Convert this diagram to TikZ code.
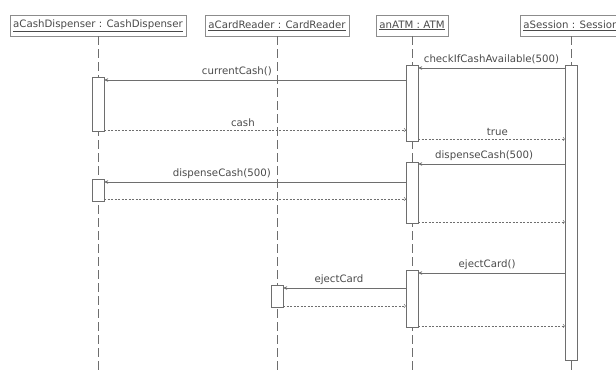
\documentclass[tikz,border=0pt]{standalone}
\usepackage{fontspec}
\setmainfont{DejaVu Sans}
\usetikzlibrary{arrows.meta, positioning}
\definecolor{linegray}{HTML}{6E6E6E}
\definecolor{textgray}{HTML}{4A4A4A}
\definecolor{boxgray}{HTML}{8C8C8C}
\tikzset{
  obj/.style={draw=boxgray, fill=white, text=textgray, minimum height=21pt, inner xsep=3.5pt, inner ysep=0pt},
  life/.style={draw=linegray, dash pattern=on 9pt off 4pt},
  act/.style={draw=linegray, fill=white, minimum width=12pt, inner sep=0pt, anchor=north},
  call/.style={draw=linegray, -{Stealth[length=4pt,width=3.5pt]}},
  ret/.style={draw=linegray, dash pattern=on 2pt off 1.5pt, -{To[length=2pt,width=4pt]}},
  msg/.style={text=textgray, above, inner sep=3.5pt}
}

\begin{document}
\begin{tikzpicture}[x=1pt, y=-1pt, font=\fontsize{10.2}{12}\selectfont]
  \useasboundingbox (0,0) rectangle (616,372);
  \clip (0,0) rectangle (616,372);
  % objects
  \node[obj] (cd) at (98,25.5) {\underline{aCashDispenser : CashDispenser}};
  \node[obj] (cr) at (277,25.5) {\underline{aCardReader : CardReader}};
  \node[obj] (atm) at (412,25.5) {\underline{anATM : ATM}};
  \node[obj] (sess) at (571,25.5) {\underline{aSession : Session}};
  % lifelines
  \foreach \o in {cd,cr,atm,sess}
    \draw[life] (\o.south) -- (\o.south |- 0,372);
  % activations
  \node[act, minimum height=295pt] (sess1) at (571,65) {};
  \node[act, minimum height=76pt] (atm1) at (412,65) {};
  \node[act, minimum height=54pt] (cd1) at (98,77) {};
  \node[act, minimum height=61pt] (atm2) at (412,162) {};
  \node[act, minimum height=22pt] (cd2) at (98,179) {};
  \node[act, minimum height=57pt] (atm3) at (412,270) {};
  \node[act, minimum height=22pt] (cr1) at (277,285) {};
  % messages
  \draw[call] (sess1.west |- 0,68) -- node[msg, pos=0.5] {checkIfCashAvailable(500)} (atm1.east |- 0,68);
  \draw[call] (atm1.west |- 0,80) -- node[msg, pos=0.56] {currentCash()} (cd1.east |- 0,80);
  \draw[ret] (cd1.east |- 0,130) -- node[msg, pos=0.46] {cash} (atm1.west |- 0,130);
  \draw[ret] (atm1.east |- 0,139) -- node[msg, pos=0.54] {true} (sess1.west |- 0,139);
  \draw[call] (sess1.west |- 0,164) -- node[msg, pos=0.55] {dispenseCash(500)} (atm2.east |- 0,164);
  \draw[call] (atm2.west |- 0,182) -- node[msg, pos=0.61] {dispenseCash(500)} (cd2.east |- 0,182);
  \draw[ret] (cd2.east |- 0,199) -- (atm2.west |- 0,199);
  \draw[ret] (atm2.east |- 0,222) -- (sess1.west |- 0,222);
  \draw[call] (sess1.west |- 0,273) -- node[msg, pos=0.53] {ejectCard()} (atm3.east |- 0,273);
  \draw[call] (atm3.west |- 0,288) -- node[msg, pos=0.545] {ejectCard} (cr1.east |- 0,288);
  \draw[ret] (cr1.east |- 0,306) -- (atm3.west |- 0,306);
  \draw[ret] (atm3.east |- 0,326) -- (sess1.west |- 0,326);
\end{tikzpicture}
\end{document}
